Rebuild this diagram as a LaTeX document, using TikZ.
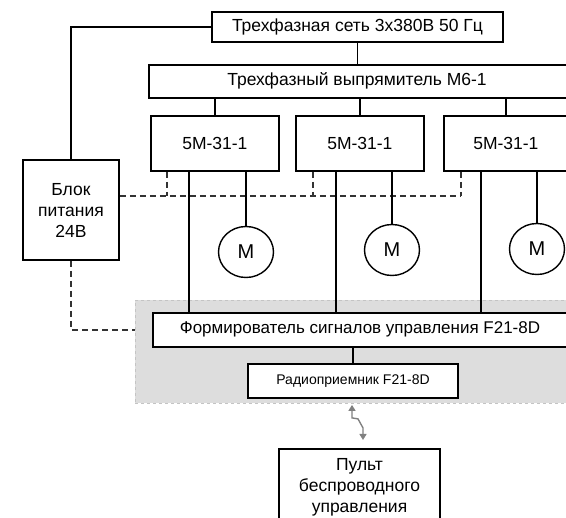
\documentclass[tikz,border=0pt]{standalone}
\usepackage{fontspec}
\setmainfont{Liberation Sans}
\usetikzlibrary{arrows.meta,positioning,calc,shapes.geometric}
\definecolor{panelgray}{HTML}{DDDDDD}
\definecolor{paneledge}{HTML}{C4C4C4}
\definecolor{radiogray}{HTML}{808080}
\tikzset{
  block/.style={draw, line width=1.8pt, fill=white, align=center, inner sep=0pt},
  motor/.style={draw, ellipse, line width=1.4pt, fill=white, minimum width=55pt, minimum height=51pt, inner sep=0pt, font=\fontsize{20}{22}\selectfont},
  wire/.style={line width=1.8pt},
  supply/.style={line width=1.3pt, dash pattern=on 6pt off 4pt, draw=black!80},
  radiolink/.style={draw=radiogray, line width=1.4pt, {Triangle[length=6pt,width=7pt]}-{Triangle[length=6pt,width=7pt]}},
  panel/.style={draw=paneledge, dashed, fill=panelgray}
}

\begin{document}
\begin{tikzpicture}[x=1pt, y=-1pt, font=\fontsize{17.5}{21}\selectfont]
  \useasboundingbox (0,0) rectangle (566,518);
  \clip (0,0) rectangle (566,518);

  % control unit panel
  \node[panel, anchor=north west, minimum width=460pt, minimum height=103pt] (panel) at (135,300) {};

  % mains and rectifier
  \node[block, minimum width=291pt, minimum height=30pt] (net) at (357.5,27) {Трехфазная сеть 3x380В 50 Гц};
  \node[block, anchor=north west, minimum width=460pt, minimum height=33pt] (rect) at (148,64) {};
  \node (rectlabel) at (357,80.5) {Трехфазный выпрямитель М6-1};

  % drivers and motors
  \node[block, anchor=north west, minimum width=128pt, minimum height=55pt] (drv1) at (150,115) {5M-31-1};
  \node[block, anchor=north west, minimum width=128pt, minimum height=55pt] (drv2) at (295,115) {5M-31-1};
  \node[block, anchor=north west, minimum width=124pt, minimum height=55pt] (drv3) at (443,115) {5M-31-1};
  \node[motor] (m1) at (246,252) {M};
  \node[motor] (m2) at (392,250) {M};
  \node[motor] (m3) at (537,249) {M};

  \node[block, minimum width=96pt, minimum height=100pt] (blok) at (71,210) {Блок\\питания\\24В};
  \coordinate (busend) at (461,196);

  % signal former, receiver, remote
  \node[block, anchor=north west, minimum width=450pt, minimum height=34pt] (form) at (152,312) {};
  \node[font=\fontsize{17}{20}\selectfont] (formlabel) at (360,329) {Формирователь сигналов управления F21-8D};
  \node[block, minimum width=210pt, minimum height=34pt, font=\fontsize{14}{16}\selectfont] (radio) at (353,381) {Радиоприемник F21-8D};
  \node[block, anchor=north, minimum width=161pt, minimum height=76pt] (pult) at (359.5,448) {Пульт\\беспроводного\\управления};

  % 24V supply lines
  \draw[supply] ([yshift=14pt]blok.east) -- (busend);
  \draw[supply] ([xshift=17pt]drv1.south west) -- ([xshift=17pt]drv1.south west |- busend);
  \draw[supply] ([xshift=18pt]drv2.south west) -- ([xshift=18pt]drv2.south west |- busend);
  \draw[supply] ([xshift=18pt]drv3.south west) -- (busend);
  \draw[supply] (blok.south) |- (form.west -| panel.west);

  % power
  \draw[wire] (net.south) -- (net.south |- rect.north);
  \draw[wire] (net.west) -| (blok.north);
  \foreach \i in {1,2,3}
    \draw[wire] (drv\i.north) -- (drv\i.north |- rect.south);

  % motors and control lines
  \foreach \i/\dx in {1/39,2/41,3/38} {
    \draw[wire] (m\i.north) -- (m\i.north |- drv\i.south);
    \draw[wire] ([xshift=\dx pt]drv\i.south west) -- ([xshift=\dx pt]drv\i.south west |- form.north);
  }
  \draw[wire] (radio.north) -- (radio.north |- form.south);

  % radio link
  \draw[radiolink] ([xshift=-1pt,yshift=-6pt]radio.south) -- ++(0,13) -- ++(6,1) -- ++(5,9) -- ([xshift=3.5pt,yshift=8pt]pult.north);
\end{tikzpicture}
\end{document}
